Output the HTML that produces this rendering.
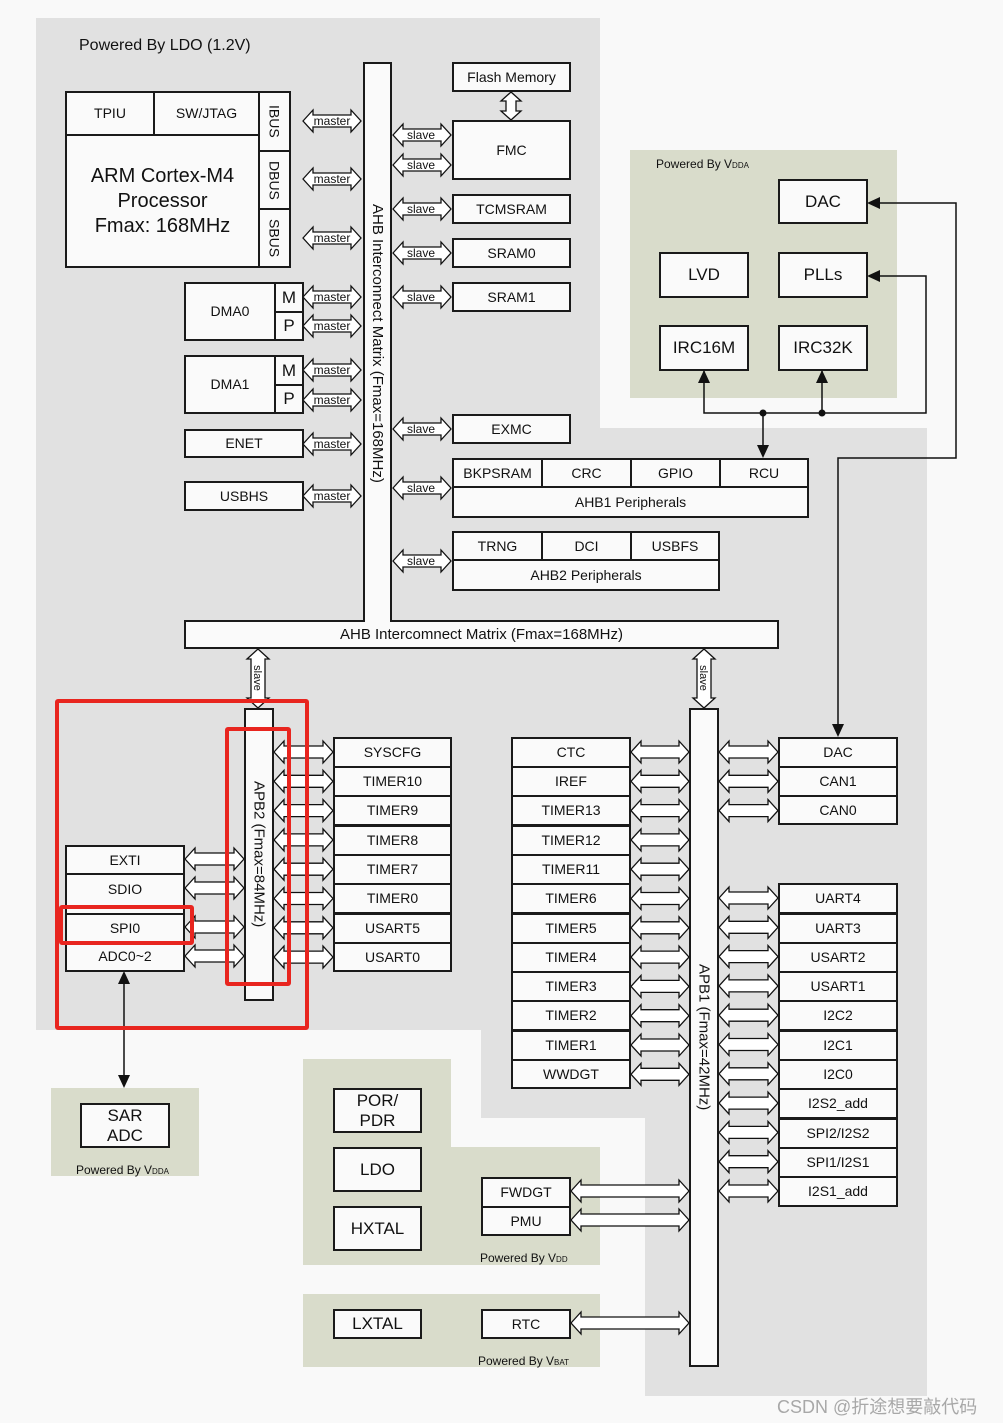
<!DOCTYPE html>
<html><head><meta charset="utf-8"><style>
html,body{margin:0;padding:0}
body{width:1003px;height:1423px;position:relative;background:#f9f9f9;font-family:"Liberation Sans",sans-serif;overflow:hidden;color:#111}
.g{position:absolute;background:#e1e1e1}
.gr{position:absolute;background:#d9dccb}
.b{position:absolute;box-sizing:border-box;border:2px solid #1a1a1a;background:#fafafa;display:flex;align-items:center;justify-content:center;font-size:14px;text-align:center;line-height:1.15}
.v{writing-mode:vertical-rl}
.t{position:absolute;white-space:nowrap}
.sm{font-size:12px}
.sc{font-size:8px}
.red{position:absolute;box-sizing:border-box;border:4px solid #e8251f;border-radius:3px}
svg{position:absolute;left:0;top:0}
</style></head><body>
<!-- gray -->
<div class="g" style="left:36px;top:18px;width:564px;height:1012px"></div>
<div class="g" style="left:600px;top:428px;width:327px;height:602px"></div>
<div class="g" style="left:481px;top:1030px;width:446px;height:88px"></div>
<div class="g" style="left:645px;top:1118px;width:282px;height:278px"></div>
<!-- green -->
<div class="gr" style="left:630px;top:150px;width:267px;height:248px"></div>
<div class="gr" style="left:51px;top:1088px;width:148px;height:88px"></div>
<div class="gr" style="left:303px;top:1059px;width:148px;height:206px"></div>
<div class="gr" style="left:451px;top:1147px;width:149px;height:118px"></div>
<div class="gr" style="left:303px;top:1294px;width:297px;height:73px"></div>

<svg width="1003" height="1423">
<g id="arr" fill="#fff" stroke="#111" stroke-width="1.3"></g>
<g stroke="#111" stroke-width="1.5" fill="none">
<polyline points="704,370 704,413 926,413 926,276 869,276"/>
<line x1="822" y1="370" x2="822" y2="413"/>
<line x1="763" y1="413" x2="763" y2="456"/>
<polyline points="869,203 956,203 956,458 838,458 838,735"/>
<line x1="124" y1="973" x2="124" y2="1086"/>
</g>
<g fill="#111">
<circle cx="763" cy="413" r="3.5"/><circle cx="822" cy="413" r="3.5"/>
<polygon points="867,203 880,197 880,209"/>
<polygon points="867,276 880,270 880,282"/>
<polygon points="704,370 698,383 710,383"/>
<polygon points="822,370 816,383 828,383"/>
<polygon points="763,458 757,445 769,445"/>
<polygon points="838,737 832,724 844,724"/>
<polygon points="124,971 118,984 130,984"/>
<polygon points="124,1088 118,1075 130,1075"/>
</g>
</svg>

<div class="t" style="left:79px;top:37px;font-size:16px">Powered By LDO (1.2V)</div>

<!-- CPU -->
<div class="b" style="left:65px;top:91px;width:90px;height:45px">TPIU</div>
<div class="b" style="left:153px;top:91px;width:107px;height:45px">SW/JTAG</div>
<div class="b" style="left:65px;top:134px;width:195px;height:134px;font-size:20px;line-height:25px">ARM Cortex-M4<br>Processor<br>Fmax: 168MHz</div>
<div class="b v" style="left:258px;top:91px;width:33px;height:61px">IBUS</div>
<div class="b v" style="left:258px;top:150px;width:33px;height:60px">DBUS</div>
<div class="b v" style="left:258px;top:208px;width:33px;height:60px">SBUS</div>

<div class="b" style="left:184px;top:282px;width:92px;height:59px">DMA0</div>
<div class="b" style="left:274px;top:282px;width:30px;height:31px;font-size:17px">M</div>
<div class="b" style="left:274px;top:311px;width:30px;height:30px;font-size:17px">P</div>
<div class="b" style="left:184px;top:355px;width:92px;height:59px">DMA1</div>
<div class="b" style="left:274px;top:355px;width:30px;height:31px;font-size:17px">M</div>
<div class="b" style="left:274px;top:384px;width:30px;height:30px;font-size:17px">P</div>
<div class="b" style="left:184px;top:429px;width:120px;height:29px">ENET</div>
<div class="b" style="left:184px;top:481px;width:120px;height:30px">USBHS</div>

<!-- AHB matrix -->
<div class="b" style="left:184px;top:620px;width:595px;height:29px;font-size:15px">AHB Intercomnect Matrix (Fmax=168MHz)</div>
<div class="b v" style="left:363px;top:62px;width:29px;height:560px;border-bottom:none;font-size:15px">AHB Interconnect Matrix (Fmax=168MHz)</div>

<div class="b" style="left:452px;top:62px;width:119px;height:30px">Flash Memory</div>
<div class="b" style="left:452px;top:120px;width:119px;height:60px">FMC</div>
<div class="b" style="left:452px;top:194px;width:119px;height:30px">TCMSRAM</div>
<div class="b" style="left:452px;top:238px;width:119px;height:30px">SRAM0</div>
<div class="b" style="left:452px;top:282px;width:119px;height:30px">SRAM1</div>
<div class="b" style="left:452px;top:414px;width:119px;height:30px">EXMC</div>

<div class="b" style="left:452px;top:458px;width:357px;height:60px;align-items:flex-end;padding-bottom:6px">AHB1 Peripherals</div>
<div class="b" style="left:452px;top:458px;width:91px;height:30px">BKPSRAM</div>
<div class="b" style="left:541px;top:458px;width:91px;height:30px">CRC</div>
<div class="b" style="left:630px;top:458px;width:91px;height:30px">GPIO</div>
<div class="b" style="left:719px;top:458px;width:90px;height:30px">RCU</div>

<div class="b" style="left:452px;top:531px;width:268px;height:60px;align-items:flex-end;padding-bottom:6px">AHB2 Peripherals</div>
<div class="b" style="left:452px;top:531px;width:91px;height:30px">TRNG</div>
<div class="b" style="left:541px;top:531px;width:91px;height:30px">DCI</div>
<div class="b" style="left:630px;top:531px;width:90px;height:30px">USBFS</div>

<!-- VDDA -->
<div class="t sm" style="left:656px;top:157px">Powered By V<span class="sc">DDA</span></div>
<div class="b" style="left:778px;top:179px;width:90px;height:45px;font-size:17px">DAC</div>
<div class="b" style="left:659px;top:252px;width:90px;height:46px;font-size:17px">LVD</div>
<div class="b" style="left:778px;top:252px;width:90px;height:46px;font-size:17px">PLLs</div>
<div class="b" style="left:659px;top:325px;width:90px;height:46px;font-size:17px">IRC16M</div>
<div class="b" style="left:778px;top:325px;width:90px;height:46px;font-size:17px">IRC32K</div>

<!-- APB2 -->
<div class="b v" style="left:244px;top:708px;width:30px;height:293px;font-size:15px">APB2 (Fmax=84MHz)</div>
<div class="b" style="left:333px;top:737px;width:119px;height:31px">SYSCFG</div>
<div class="b" style="left:333px;top:766px;width:119px;height:31px">TIMER10</div>
<div class="b" style="left:333px;top:795px;width:119px;height:31px">TIMER9</div>
<div class="b" style="left:333px;top:825px;width:119px;height:31px">TIMER8</div>
<div class="b" style="left:333px;top:854px;width:119px;height:31px">TIMER7</div>
<div class="b" style="left:333px;top:883px;width:119px;height:31px">TIMER0</div>
<div class="b" style="left:333px;top:913px;width:119px;height:31px">USART5</div>
<div class="b" style="left:333px;top:942px;width:119px;height:30px">USART0</div>

<div class="b" style="left:65px;top:845px;width:120px;height:30px">EXTI</div>
<div class="b" style="left:65px;top:873px;width:120px;height:42px;align-items:flex-start;padding-top:6px">SDIO</div>
<div class="b" style="left:65px;top:913px;width:120px;height:30px">SPI0</div>
<div class="b" style="left:65px;top:941px;width:120px;height:31px">ADC0~2</div>

<div class="b" style="left:80px;top:1103px;width:90px;height:45px;font-size:17px;line-height:20px">SAR<br>ADC</div>
<div class="t sm" style="left:76px;top:1163px">Powered By V<span class="sc">DDA</span></div>

<!-- APB1 -->
<div class="b v" style="left:689px;top:708px;width:30px;height:659px;font-size:15px">APB1 (Fmax=42MHz)</div>
<div class="b" style="left:511px;top:737px;width:120px;height:31px">CTC</div>
<div class="b" style="left:511px;top:766px;width:120px;height:31px">IREF</div>
<div class="b" style="left:511px;top:795px;width:120px;height:31px">TIMER13</div>
<div class="b" style="left:511px;top:825px;width:120px;height:31px">TIMER12</div>
<div class="b" style="left:511px;top:854px;width:120px;height:31px">TIMER11</div>
<div class="b" style="left:511px;top:883px;width:120px;height:31px">TIMER6</div>
<div class="b" style="left:511px;top:913px;width:120px;height:31px">TIMER5</div>
<div class="b" style="left:511px;top:942px;width:120px;height:31px">TIMER4</div>
<div class="b" style="left:511px;top:971px;width:120px;height:31px">TIMER3</div>
<div class="b" style="left:511px;top:1000px;width:120px;height:31px">TIMER2</div>
<div class="b" style="left:511px;top:1030px;width:120px;height:31px">TIMER1</div>
<div class="b" style="left:511px;top:1059px;width:120px;height:30px">WWDGT</div>

<div class="b" style="left:778px;top:737px;width:120px;height:31px">DAC</div>
<div class="b" style="left:778px;top:766px;width:120px;height:31px">CAN1</div>
<div class="b" style="left:778px;top:795px;width:120px;height:30px">CAN0</div>
<div class="b" style="left:778px;top:883px;width:120px;height:31px">UART4</div>
<div class="b" style="left:778px;top:913px;width:120px;height:31px">UART3</div>
<div class="b" style="left:778px;top:942px;width:120px;height:31px">USART2</div>
<div class="b" style="left:778px;top:971px;width:120px;height:31px">USART1</div>
<div class="b" style="left:778px;top:1000px;width:120px;height:31px">I2C2</div>
<div class="b" style="left:778px;top:1030px;width:120px;height:31px">I2C1</div>
<div class="b" style="left:778px;top:1059px;width:120px;height:31px">I2C0</div>
<div class="b" style="left:778px;top:1088px;width:120px;height:31px">I2S2_add</div>
<div class="b" style="left:778px;top:1118px;width:120px;height:31px">SPI2/I2S2</div>
<div class="b" style="left:778px;top:1147px;width:120px;height:31px">SPI1/I2S1</div>
<div class="b" style="left:778px;top:1176px;width:120px;height:31px">I2S1_add</div>

<!-- VDD -->
<div class="b" style="left:333px;top:1088px;width:89px;height:45px;font-size:17px;line-height:20px">POR/<br>PDR</div>
<div class="b" style="left:333px;top:1147px;width:89px;height:45px;font-size:17px">LDO</div>
<div class="b" style="left:333px;top:1206px;width:89px;height:45px;font-size:17px">HXTAL</div>
<div class="b" style="left:481px;top:1177px;width:90px;height:31px">FWDGT</div>
<div class="b" style="left:481px;top:1206px;width:90px;height:30px">PMU</div>
<div class="t sm" style="left:480px;top:1251px">Powered By V<span class="sc">DD</span></div>
<div class="b" style="left:333px;top:1309px;width:89px;height:30px;font-size:17px">LXTAL</div>
<div class="b" style="left:481px;top:1309px;width:90px;height:30px">RTC</div>
<div class="t sm" style="left:478px;top:1354px">Powered By V<span class="sc">BAT</span></div>

<svg width="1003" height="1423" style="pointer-events:none">
<g font-family="Liberation Sans, sans-serif" font-size="12" text-anchor="middle" fill="#111">
<text x="332" y="125">master</text><text x="332" y="183">master</text><text x="332" y="242">master</text>
<text x="332" y="301">master</text><text x="332" y="330">master</text><text x="332" y="374">master</text>
<text x="332" y="404">master</text><text x="332" y="448">master</text><text x="332" y="500">master</text>
<text x="421" y="139">slave</text><text x="421" y="169">slave</text><text x="421" y="213">slave</text>
<text x="421" y="257">slave</text><text x="421" y="301">slave</text><text x="421" y="433">slave</text>
<text x="421" y="492">slave</text><text x="421" y="565">slave</text>
<text transform="translate(254,678) rotate(90)" font-size="11">slave</text>
<text transform="translate(700,678) rotate(90)" font-size="11">slave</text>
</g>
</svg>

<div class="red" style="left:55px;top:699px;width:254px;height:331px"></div>
<div class="red" style="left:225px;top:727px;width:66px;height:259px"></div>
<div class="red" style="left:59px;top:905px;width:135px;height:40px"></div>

<div class="t" style="left:777px;top:1393px;font-size:18px;color:#a8a8a8;font-family:'Liberation Sans','Noto Sans CJK SC',sans-serif">CSDN @折途想要敲代码</div>

<script>
var g=document.getElementById('arr'),s='';
function ha(x1,x2,y,H,h,l){H=H||11;h=h||6;l=l||10;
s+='<polygon points="'+[[x1,y],[x1+l,y-H],[x1+l,y-h],[x2-l,y-h],[x2-l,y-H],[x2,y],[x2-l,y+H],[x2-l,y+h],[x1+l,y+h],[x1+l,y+H]].map(function(p){return p.join(',')}).join(' ')+'"/>';}
function va(x,y1,y2,H,h,l){H=H||11;h=h||7;l=l||10;
s+='<polygon points="'+[[x,y1],[x+H,y1+l],[x+h,y1+l],[x+h,y2-l],[x+H,y2-l],[x,y2],[x-H,y2-l],[x-h,y2-l],[x-h,y1+l],[x-H,y1+l]].map(function(p){return p.join(',')}).join(' ')+'"/>';}
[121,179,238,297,326,370,400,444,496].forEach(function(y){ha(303,361,y);});
[135,165,209,253,297,429,488,561].forEach(function(y){ha(393,451,y);});
va(511,92,120,10,5,9);
va(258,649,708);va(704,649,708);
for(var i=0;i<8;i++)ha(274,333,752+29.3*i);
[859,888,927,956].forEach(function(y){ha(185,244,y);});
for(i=0;i<12;i++)ha(631,689,752+29.3*i);
for(i=0;i<3;i++)ha(719,778,752+29.3*i);
for(i=0;i<11;i++)ha(719,778,898+29.3*i);
ha(571,689,1191);ha(571,689,1220);ha(571,689,1323);
g.innerHTML=s;
</script>
</body></html>
